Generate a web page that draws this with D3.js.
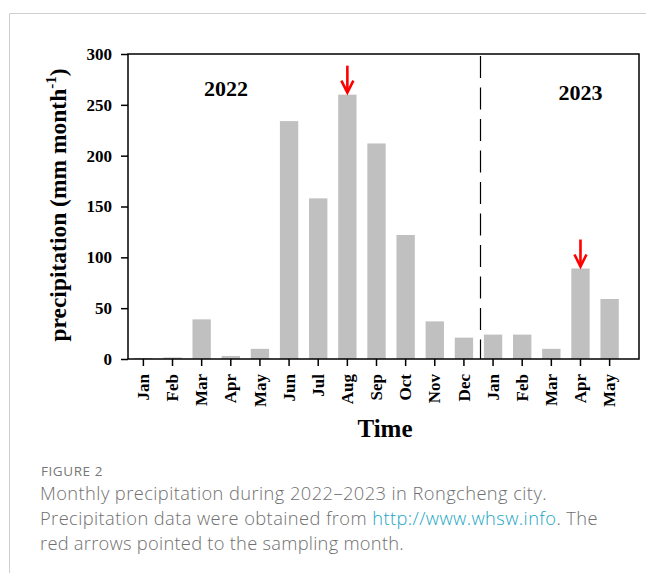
<!DOCTYPE html>
<html><head><meta charset="utf-8">
<script src="https://cdn.jsdelivr.net/npm/d3@7/dist/d3.min.js"></script>
<style>
html,body{margin:0;padding:0;background:#fff;}
svg{display:block;}
</style></head>
<body>
<script>
const months = ["Jan","Feb","Mar","Apr","May","Jun","Jul","Aug","Sep","Oct","Nov","Dec","Jan","Feb","Mar","Apr","May"];
const years = [2022,2022,2022,2022,2022,2022,2022,2022,2022,2022,2022,2022,2023,2023,2023,2023,2023];
const precipitation = [1,1.5,39,3,10,234,158,260,212,122,37,21,24,24,10,89,59];
const sampled = ["2022-Aug","2023-Apr"];
const yTicks = [0,50,100,150,200,250,300];
const yearLabels = ["2022","2023"];
const caption = {
  label: "FIGURE 2",
  line1: "Monthly precipitation during 2022\u20132023 in Rongcheng city.",
  line2a: "Precipitation data were obtained from ",
  link: "http://www.whsw.info",
  line2b: ". The",
  line3: "red arrows pointed to the sampling month."
};

(function(){
const W = 646, H = 573;
const keys = months.map((m,i)=>years[i]+"-"+m);
const svg = d3.select("body").append("svg").attr("width",W).attr("height",H);

// card border
svg.append("path").attr("d","M9.5,573 V13.5 H646").attr("fill","none").attr("stroke","#cfcfcf").attr("stroke-width",1);

const pL = 128, pR = 639, pT = 54, pB = 359;
const x = d3.scaleBand().domain(keys).range([127.5,625.5]).paddingInner(0.37).paddingOuter(0.23);
const y = d3.scaleLinear().domain([0,300]).range([pB, pT]);

const serif = "'Liberation Serif','Times New Roman',serif";

// bars
svg.append("g").selectAll("rect").data(keys).join("rect")
  .attr("x",d=>x(d)).attr("width",x.bandwidth())
  .attr("y",(d,i)=>y(precipitation[i])).attr("height",(d,i)=>pB-y(precipitation[i]))
  .attr("fill","#c0c0c0");

// frame
svg.append("rect").attr("x",pL).attr("y",pT).attr("width",pR-pL).attr("height",pB-pT)
  .attr("fill","none").attr("stroke","#000").attr("stroke-width",1.5);

// divider between years
const divX = Math.round((x(keys[11]) + x(keys[12]) + x.bandwidth())/2 + 1.5) + 0.5;
svg.append("line").attr("x1",divX).attr("x2",divX).attr("y1",pT+2).attr("y2",pB)
  .attr("stroke","#000").attr("stroke-width",1.2).attr("stroke-dasharray","22,9.5");

// y axis
const yAxis = svg.append("g").attr("transform",`translate(${pL},0)`)
  .call(d3.axisLeft(y).tickValues(yTicks).tickSize(7).tickPadding(9));
yAxis.select(".domain").remove();
yAxis.selectAll(".tick line").attr("stroke","#000").attr("stroke-width",1.5);
yAxis.selectAll(".tick text").attr("font-family",serif).attr("font-weight","bold").attr("font-size",17).attr("fill","#000");

// x axis
const xAxis = svg.append("g").attr("transform",`translate(0,${pB})`)
  .call(d3.axisBottom(x).tickSize(7).tickFormat((d,i)=>months[i]));
xAxis.select(".domain").remove();
xAxis.selectAll(".tick line").attr("stroke","#000").attr("stroke-width",1.5);
xAxis.selectAll(".tick text")
  .attr("font-family",serif).attr("font-weight","bold").attr("font-size",17).attr("fill","#000")
  .attr("transform","rotate(-90)").attr("text-anchor","end").attr("x",-15).attr("y",0).attr("dy","0.33em");

// axis titles
svg.append("text").attr("x",385).attr("y",437).attr("text-anchor","middle")
  .attr("font-family",serif).attr("font-weight","bold").attr("font-size",25).text("Time");

const yt = svg.append("text").attr("transform","translate(66,205) rotate(-90)").attr("text-anchor","middle")
  .attr("font-family",serif).attr("font-weight","bold").attr("font-size",23.5);
yt.append("tspan").text("precipitation (mm month");
yt.append("tspan").attr("font-size",15).attr("dy",-10).text("-1");
yt.append("tspan").attr("dy",10).text(")");

// year labels
svg.append("text").attr("x",226).attr("y",96).attr("text-anchor","middle")
  .attr("font-family",serif).attr("font-weight","bold").attr("font-size",22).text(yearLabels[0]);
svg.append("text").attr("x",x("2023-Apr")+x.bandwidth()/2).attr("y",100).attr("text-anchor","middle")
  .attr("font-family",serif).attr("font-weight","bold").attr("font-size",22).text(yearLabels[1]);

// arrows
sampled.forEach(k=>{
  const i = keys.indexOf(k);
  const cx = x(k)+x.bandwidth()/2;
  const tip = y(precipitation[i]) - 2;
  const g = svg.append("g").attr("stroke","#f00").attr("stroke-width",2.6).attr("fill","none").attr("stroke-linecap","butt");
  g.append("line").attr("x1",cx).attr("x2",cx).attr("y1",tip-27).attr("y2",tip);
  g.append("path").attr("d",`M${cx-6},${tip-12} L${cx},${tip} L${cx+6},${tip-12}`);
});

// caption
const sans = "'Open Sans',Lato,sans-serif";
function fit(sel, target){
  const node = sel.node();
  const w = node.getComputedTextLength();
  const n = node.textContent.length;
  sel.attr("letter-spacing", ((target - w)/n).toFixed(3));
}
const lab = svg.append("text").attr("x",41).attr("y",476).attr("font-family",sans).attr("font-size",13.5).attr("fill","#777").text(caption.label);
fit(lab, 62);
const fs = 18.3;
const c1 = svg.append("text").attr("x",40).attr("y",500).attr("font-family",sans).attr("font-weight",300).attr("font-size",fs).attr("fill","#707070");
c1.text(caption.line1);
fit(c1, 507);
const c2 = svg.append("text").attr("x",40).attr("y",525).attr("font-family",sans).attr("font-weight",300).attr("font-size",fs).attr("fill","#707070");
c2.append("tspan").text(caption.line2a);
c2.append("tspan").attr("fill","#1aa6c4").text(caption.link);
c2.append("tspan").text(caption.line2b);
fit(c2, 558);
const c3 = svg.append("text").attr("x",40).attr("y",550).attr("font-family",sans).attr("font-weight",300).attr("font-size",fs).attr("fill","#707070").text(caption.line3);
fit(c3, 364);
})();
</script>
</body></html>
